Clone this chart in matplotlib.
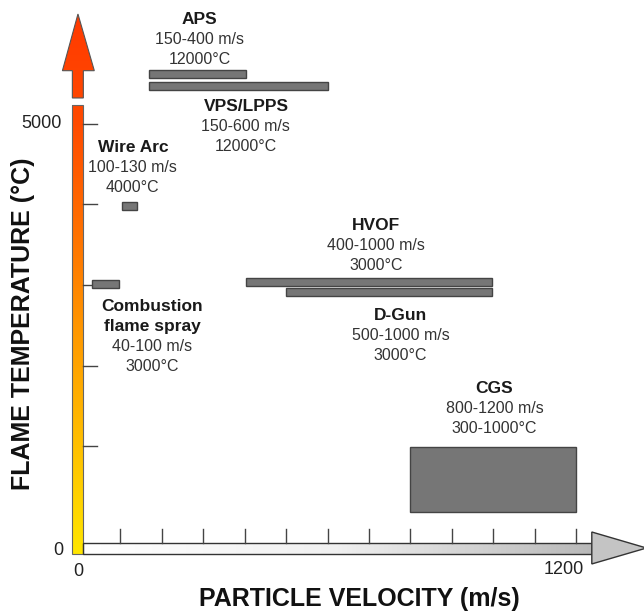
#!/usr/bin/env python3
"""
Thermal spray processes: particle velocity vs flame temperature (schematic).
"""

import numpy as np
import matplotlib
matplotlib.use("Agg")
import matplotlib.pyplot as plt
from matplotlib.patches import Polygon, Rectangle
from matplotlib.colors import LinearSegmentedColormap

plt.rcParams['font.family'] = ['Liberation Sans', 'DejaVu Sans']

# process ranges (velocity m/s, temperature degC)
processes = ["Combustion flame spray", "Wire Arc", "HVOF", "D-Gun", "APS", "VPS/LPPS", "CGS"]
vel_min = [32, 103, 402, 500, 169, 169, 798]
vel_max = [97, 139, 996, 996, 403, 600, 1200]
temp_lo = [2960, 3930, 2990, 2860, 5570, 5420, 184]
temp_hi = [3060, 4030, 3090, 2960, 5670, 5520, 991]

# annotation text for each process
titles = [["Combustion", "flame spray"], ["Wire Arc"], ["HVOF"], ["D-Gun"],
          ["APS"], ["VPS/LPPS"], ["CGS"]]
details = [["40-100 m/s", "3000°C"], ["100-130 m/s", "4000°C"],
           ["400-1000 m/s", "3000°C"], ["500-1000 m/s", "3000°C"],
           ["150-400 m/s", "12000°C"], ["150-600 m/s", "12000°C"],
           ["800-1200 m/s", "300-1000°C"]]
label_x = [176, 130, 718, 776, 291, 403, 1003]
label_y = [2727, 4702, 3745, 2627, 6292, 5211, 1720]

x_ticks = [100, 200, 300, 400, 500, 600, 700, 800, 900, 1000, 1100, 1200]
y_ticks = [1000, 2000, 3000, 4000, 5000]

fig = plt.figure(figsize=(6.44, 6.15), dpi=100)
ax = fig.add_axes([0, 0, 1, 1])
ax.set_xlim(-190.7, 1364)
ax.set_ylim(-1099, 6540)
ax.axis('off')

# vertical (temperature) arrow with yellow -> red gradient
temp_cmap = LinearSegmentedColormap.from_list(
    "flame", ["#ffe600", "#ffc000", "#ff9a00", "#ff7000", "#ff4a00", "#ff3a00"])
grad = np.linspace(0, 1, 256).reshape(-1, 1)
lower = Polygon([(-16, -342), (10.5, -342), (10.5, 5236), (-16, 5236)],
                closed=True, facecolor='none', edgecolor='#666666', lw=0.8, zorder=3)
upper = Polygon([(-16, 5323), (10.5, 5323), (10.5, 5662), (37, 5662), (-2.5, 6366),
                 (-40, 5662), (-16, 5662)],
                closed=True, facecolor='none', edgecolor='#555555', lw=0.8, zorder=3)
for p in (lower, upper):
    ax.add_patch(p)
    im = ax.imshow(grad, cmap=temp_cmap, origin='lower', aspect='auto',
                   extent=(-40, 37, -342, 6366), zorder=2)
    im.set_clip_path(p)

# horizontal (velocity) arrow with white -> grey gradient
vel_cmap = LinearSegmentedColormap.from_list("steel", ["#ffffff", "#f0f0f0", "#b8b8b8"])
shaft = Polygon([(9, -205), (1238, -205), (1238, -337), (9, -337)],
                closed=True, facecolor='none', edgecolor='#333333', lw=1.0, zorder=3)
ax.add_patch(shaft)
im = ax.imshow(grad.T, cmap=vel_cmap, aspect='auto',
               extent=(9, 1238, -337, -205), zorder=2)
im.set_clip_path(shaft)
head = Polygon([(1238, -68), (1238, -465), (1370, -267)], closed=True,
               facecolor='#c4c4c4', edgecolor='#333333', lw=1.0, zorder=3)
ax.add_patch(head)

# tick marks
for xt in x_ticks:
    ax.plot([xt, xt], [-205, -31], color='#444444', lw=1.0, zorder=3)
for yt in y_ticks:
    ax.plot([10.5, 44], [yt, yt], color='#444444', lw=1.0, zorder=3)

ax.text(-90, 5000, "5000", fontsize=13, color='#222222', ha='center', va='center')
ax.text(-51, -300, "0", fontsize=13, color='#222222', ha='center', va='center')
ax.text(-2, -560, "0", fontsize=13, color='#222222', ha='center', va='center')
ax.text(1171, -540, "1200", fontsize=13, color='#222222', ha='center', va='center')

# process ranges
for i in range(len(processes)):
    ax.add_patch(Rectangle((vel_min[i], temp_lo[i]), vel_max[i] - vel_min[i],
                           temp_hi[i] - temp_lo[i], facecolor='#767676',
                           edgecolor='#444444', lw=1.0, zorder=4))

# labels: one line every ~20 px
line_step = 14.4  # points
for i in range(len(processes)):
    k = 0
    for line in titles[i]:
        ax.annotate(line, (label_x[i], label_y[i]), xytext=(0, -line_step * k),
                    textcoords='offset points', ha='center', va='center',
                    fontsize=12.5, fontweight='bold', color='#1a1a1a',
                    annotation_clip=False)
        k += 1
    for line in details[i]:
        ax.annotate(line, (label_x[i], label_y[i]), xytext=(0, -line_step * k),
                    textcoords='offset points', ha='center', va='center',
                    fontsize=11.5, color='#333333', annotation_clip=False)
        k += 1

# axis titles
ax.text(676, -905, "PARTICLE VELOCITY (m/s)", fontsize=18, fontweight='bold',
        color='#111111', ha='center', va='center')
ax.text(-135, 2515, "FLAME TEMPERATURE (°C)", fontsize=18, fontweight='bold',
        color='#111111', ha='center', va='center', rotation=90)

fig.savefig("out.png", dpi=100)
